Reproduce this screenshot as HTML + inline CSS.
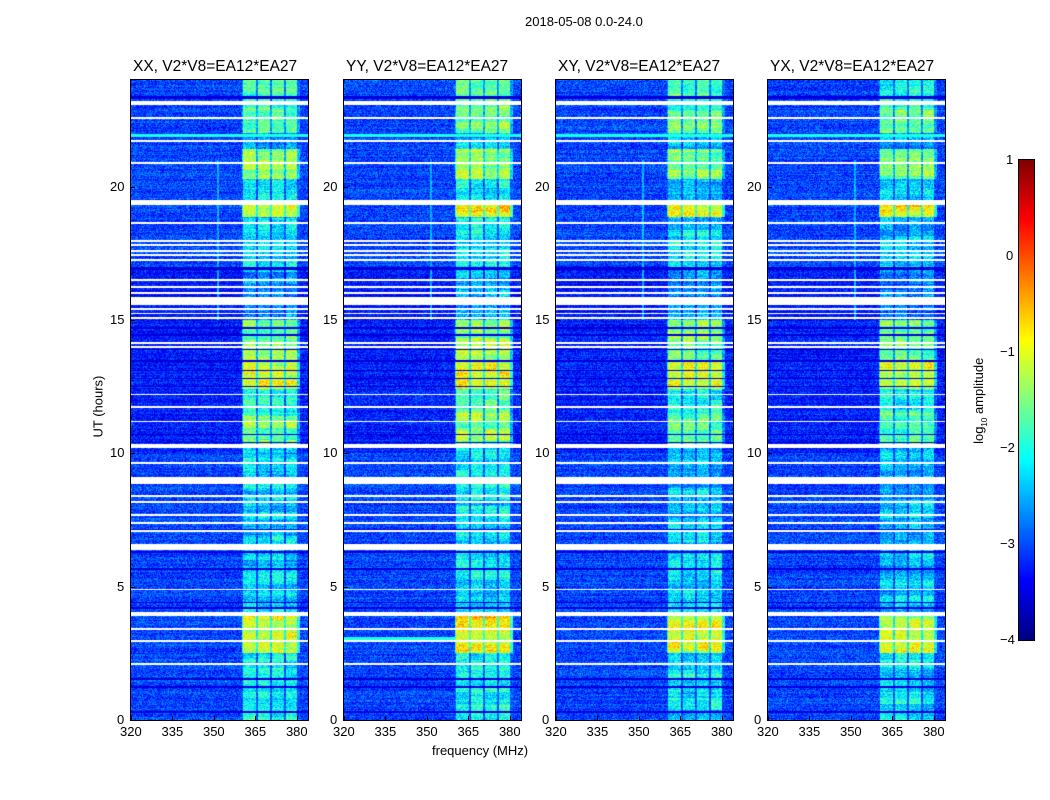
<!DOCTYPE html>
<html><head><meta charset="utf-8">
<style>
body{margin:0;background:#fff;width:1050px;height:800px;position:relative;overflow:hidden;font-family:"Liberation Sans",sans-serif;color:#000}
.t{position:absolute;white-space:nowrap;font-size:13px}
canvas{position:absolute}
</style></head><body>
<div class="t" style="left:525px;top:14px;font-size:13px">2018-05-08 0.0-24.0</div>
<div class="t" style="left:432px;top:743px">frequency (MHz)</div>
<div class="t" style="left:60px;top:392px;transform:rotate(-90deg);transform-origin:center;width:76px">UT (hours)</div>
<div class="t" style="left:930px;top:392px;transform:rotate(-90deg);width:100px;text-align:center">log<sub style="font-size:8px">10</sub> amplitude</div>
<div id="root"></div>
<script>
// ---- data ----
const panelNames = ["XX, V2*V8=EA12*EA27","YY, V2*V8=EA12*EA27","XY, V2*V8=EA12*EA27","YX, V2*V8=EA12*EA27"];
const panelGain = [0, 0.15, -0.05, -0.08];
const xTicks = [320,335,350,365,380];
const yTicks = [0,5,10,15,20];
const cbTicks = [1,0,-1,-2,-3,-4];
// white (flagged) gaps in hours [start,end]
const gapHours = [[23.08,23.2],[22.52,22.6],[21.68,21.75],[20.86,20.93],[19.3,19.5],[18.59,18.66],[17.93,18.0],[17.78,17.85],[17.56,17.63],[17.39,17.46],[17.23,17.3],[16.47,16.54],[16.21,16.28],[15.98,16.05],[15.56,15.86],[15.38,15.45],[15.21,15.28],[15.04,15.11],[14.11,14.18],[13.96,14.03],[12.17,12.24],[11.71,11.78],[11.16,11.23],[10.2,10.35],[9.61,9.68],[8.85,9.11],[8.37,8.44],[8.15,8.22],[7.66,7.73],[7.36,7.43],[7.06,7.13],[6.38,6.6],[4.86,4.93],[3.9,4.05],[3.38,3.45],[2.93,3.0],[2.07,2.14]];
const cyanHours = [[21.85,21.97]];
// dark rows in hours
const darkHours = [[23.3,23.4],[16.87,17.0],[14.66,14.72],[14.41,14.47],[13.87,13.93],[13.43,13.49],[13.07,13.13],[12.77,12.83],[12.47,12.53],[10.67,10.73],[10.37,10.43],[7.12,7.18],[6.27,6.33],[5.63,5.69],[4.37,4.43],[4.17,4.23],[1.5,1.56],[1.21,1.27],[0.27,0.35]];
// background level (log amp) per hour segment [start,end,level]
const bgLevel = [[0,10,-3.05],[10,15,-3.25],[15,17,-3.3],[17,24,-3.05]];
// bright RFI band level per hour segment [start,end,level]
const rfiLevel = [[0,2.5,-2.2],[2.5,3.9,-1.0],[3.9,6.4,-2.3],[6.4,10.3,-2.35],[10.3,11.5,-1.6],[11.5,12.4,-1.9],[12.4,13.5,-1.1],[13.5,15.0,-1.5],[15.0,17.0,-2.6],[17.0,18.85,-2.3],[18.85,19.3,-0.9],[19.5,20.3,-2.3],[20.3,21.4,-1.4],[21.4,22.0,-2.5],[22.0,23.0,-1.6],[23.0,24,-1.8]];
// sub-bands in MHz
const subBands = [[360.4,365.1],[365.8,370.2],[370.9,375.2],[375.9,379.9]];
const lineFreq = 351.5, lineHours=[15.0,21.0];

// ---- axes ----
const X0=[131,344,556,768], Y0=80, W=177, H=640;
const fMin=320, fMax=384, hMax=24;
const xs=f=>(f-fMin)/(fMax-fMin)*W;
const ys=h=>H-h/hMax*H;
const cl=v=>Math.max(0,Math.min(1,v));
function jet(t){return [cl(1.5-Math.abs(4*t-3)),cl(1.5-Math.abs(4*t-2)),cl(1.5-Math.abs(4*t-1))].map(v=>Math.round(v*255));}
function hash(a,b,c){let h=(a*374761393+b*668265263+c*2147483647)|0;h=(h^(h>>>13))*1274126177|0;return ((h^(h>>>16))>>>0)/4294967296;}
const inSeg=(arr,h)=>arr.some(s=>h>=s[0]&&h<s[1]);
const segVal=(arr,h,d)=>{for(const s of arr)if(h>=s[0]&&h<s[1])return s[2];return d;};
const root=document.getElementById('root');
function txt(s,l,t,extra,name){const d=document.createElement('div');d.className='t';d.textContent=s;d.style.cssText+=`left:${l}px;top:${t}px;`+(extra||'');


root.appendChild(d);return d;}
for(let p=0;p<4;p++){
  const c=document.createElement('canvas');c.width=W;c.height=H;c.style.left=X0[p]+'px';c.style.top=Y0+'px';
  
  
  root.appendChild(c);
  const ctx=c.getContext('2d');const img=ctx.createImageData(W,H);
  for(let j=0;j<H;j++){
    const h=(H-j-0.5)/H*hMax;
    const gap=inSeg(gapHours,h), cyan=inSeg(cyanHours,h), dark=inSeg(darkHours,h);
    const bg=segVal(bgLevel,h,-3), rf=segVal(rfiLevel,h,-2)+panelGain[p];
    const rowN=(hash(j,7,p)-0.5)*0.3;
    const blk=(hash(Math.floor(j/6),11,p)-0.5)*0.5;
    for(let i=0;i<W;i++){
      const f=fMin+(i+0.5)/W*(fMax-fMin);
      let v;
      if(gap){const k=(j*W+i)*4;img.data[k]=img.data[k+1]=img.data[k+2]=255;img.data[k+3]=255;continue;}
      if(cyan) v=-2.0;
      else if(dark) v=-3.7+hash(i,j,p)*0.3;
      else{
        v=bg+(hash(i,j,p)-0.5)*0.8+rowN;
        let bi=-1;subBands.forEach((b,q)=>{if(f>=b[0]&&f<b[1])bi=q;});
        if(bi>=0){const cb=(hash(bi,Math.floor(j/10),p+5)-0.5)*0.4;const m=rf+blk+cb+(hash(i,j,p+9)-0.5)*0.9+rowN;v=Math.max(v,m);}
        else if(f>=360&&f<381){v=Math.max(v,rf-1.0+(hash(i,j,p+3)-0.5)*0.8);}
        if(Math.abs(f-lineFreq)<0.5&&h>lineHours[0]&&h<lineHours[1])v=Math.max(v,-2.5+(hash(i,j,p+4)-0.5)*0.6);
        if(p===1&&Math.abs(h-3.05)<0.07&&f<360)v=-2.0;
      }
      const [r,g,b]=jet(cl((v+4)/5));const k=(j*W+i)*4;
      img.data[k]=r;img.data[k+1]=g;img.data[k+2]=b;img.data[k+3]=255;
    }
  }
  ctx.putImageData(img,0,0);
  const fr=document.createElement('div');
  fr.style.cssText=`position:absolute;left:${X0[p]-1}px;top:${Y0-1}px;width:${W}px;height:${H}px;border:1px solid #000`;
  
  
  root.appendChild(fr);
  txt(panelNames[p],X0[p]+2,58,'font-size:15.5px','panel-title-'+p);
  xTicks.forEach(t=>{const x=X0[p]+xs(t);
    const tk=document.createElement('div');tk.style.cssText=`position:absolute;left:${x}px;top:${Y0+H-4}px;width:1px;height:4px;background:#000`;
    
    
    root.appendChild(tk);
    txt(String(t),x-11,724,'','x-tick-label');});
  yTicks.forEach(t=>{const y=Y0+ys(t);
    const tk=document.createElement('div');tk.style.cssText=`position:absolute;left:${X0[p]}px;top:${y}px;width:4px;height:1px;background:#000`;
    
    
    root.appendChild(tk);
    txt(String(t),X0[p]-6-(t>=10?15:8),y-8,'','y-tick-label');});
}
// colorbar
const cb=document.createElement('canvas');cb.width=15;cb.height=480;cb.style.left='1019px';cb.style.top='160px';


root.appendChild(cb);
const cc=cb.getContext('2d');
for(let j=0;j<480;j++){const [r,g,b]=jet(1-(j+0.5)/480);cc.fillStyle=`rgb(${r},${g},${b})`;cc.fillRect(0,j,15,1);}
const cf=document.createElement('div');cf.style.cssText='position:absolute;left:1018px;top:159px;width:15px;height:480px;border:1px solid #000';


root.appendChild(cf);
cbTicks.forEach(t=>{const y=160+(1-t)/5*480;
  txt(t<0?'\u2212'+(-t):String(t),t<0?1000:1006,y-8,'','colorbar-tick-label');});
</script>
</body></html>
